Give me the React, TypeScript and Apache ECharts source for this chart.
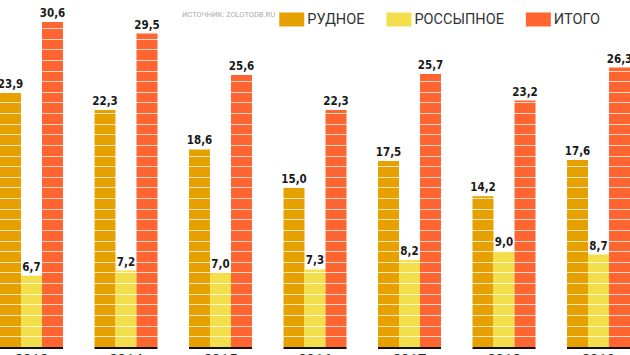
import React, { useEffect, useRef } from "react";
import * as echarts from "echarts";

const years = ["2013", "2014", "2015", "2016", "2017", "2018", "2019"];
const ore = [23.9, 22.3, 18.6, 15.0, 17.5, 14.2, 17.6];
const placer = [6.7, 7.2, 7.0, 7.3, 8.2, 9.0, 8.7];
const total = [30.6, 29.5, 25.6, 22.3, 25.7, 23.2, 26.3];
const seriesNames = ["РУДНОЕ", "РОССЫПНОЕ", "ИТОГО"];
const colors = ["#E6A100", "#F2DF4B", "#FF6530"];
const sourceText = "ИСТОЧНИК: ZOLOTODB.RU";

export default function App() {
  const ref = useRef<HTMLDivElement>(null);
  useEffect(() => {
    document.body.style.margin = "0";
    if (!ref.current) return;
    const chart = echarts.init(ref.current, undefined, { renderer: "svg" });
    const values = [ore, placer, total];
    const barCommon = {
      type: "bar",
      barGap: "0%",
      barCategoryGap: "33.333%",
    };
    const fmt = (p: any) => Number(p.value).toFixed(1).replace(".", ",");
    const option: any = {
      animation: false,
      backgroundColor: "#fff",
      grid: { left: -15.75, right: -15.75, top: 7, bottom: 8, outerBoundsMode: "none", containLabel: false },
      legend: {
        data: seriesNames,
        right: 25,
        top: 7,
        itemWidth: 25,
        itemHeight: 14,
        itemGap: 22,
        icon: "rect",
        textStyle: { fontFamily: "Roboto", fontSize: 14.5, color: "#333", padding: [0, 0, 0, -2] },
        selectedMode: false,
      },
      graphic: [
        {
          type: "text",
          left: 182,
          top: 10,
          style: {
            text: sourceText,
            fontFamily: "Roboto",
            fontSize: 7.5,
            fill: "#aaa",
          },
        },
      ],
      xAxis: [
        {
          type: "category",
          data: years,
          axisLine: { show: false },
          axisTick: { show: false },
          axisLabel: {
            margin: 5,
            fontFamily: "Roboto",
            fontSize: 15,
            color: "#222",
          },
        },
        {
          type: "category",
          data: years,
          show: false,
        },
      ],
      yAxis: {
        type: "value",
        min: 0,
        max: 32,
        interval: 1,
        z: 3,
        axisLine: { show: false },
        axisTick: { show: false },
        axisLabel: { show: false },
        splitLine: { show: true, lineStyle: { color: "rgba(255,255,255,0.75)", width: 1 } },
      },
      series: [
        ...seriesNames.map((name, i) => ({
          ...barCommon,
          name,
          xAxisIndex: 0,
          z: 2,
          data: values[i],
          itemStyle: { color: colors[i] },
        })),
        ...seriesNames.map((name, i) => ({
          ...barCommon,
          name: "lbl" + i,
          xAxisIndex: 1,
          z: 10,
          silent: true,
          data: values[i],
          itemStyle: { color: "rgba(0,0,0,0)" },
          label: {
            show: true,
            position: "top",
            distance: 3,
            formatter: fmt,
            fontFamily: "'Liberation Sans Narrow', 'DejaVu Sans Condensed', sans-serif",
            fontWeight: "bold",
            fontSize: 11.5,
            color: "#1a1a1a",
          },
        })),
        {
          type: "custom",
          name: "baseline",
          xAxisIndex: 0,
          z: 11,
          silent: true,
          data: years.map((_, i) => [i, 0]),
          encode: { x: 0, y: 1 },
          renderItem: (params: any, api: any) => {
            const c = api.coord([api.value(0), 0]);
            const w = api.size([1, 0])[0];
            return {
              type: "rect",
              shape: { x: c[0] - w / 3, y: c[1], width: (2 * w) / 3, height: 2 },
              style: { fill: "#111" },
            };
          },
        },
      ],
    };
    chart.setOption(option);
    return () => chart.dispose();
  }, []);
  return <div ref={ref} style={{ width: 630, height: 355 }} />;
}
